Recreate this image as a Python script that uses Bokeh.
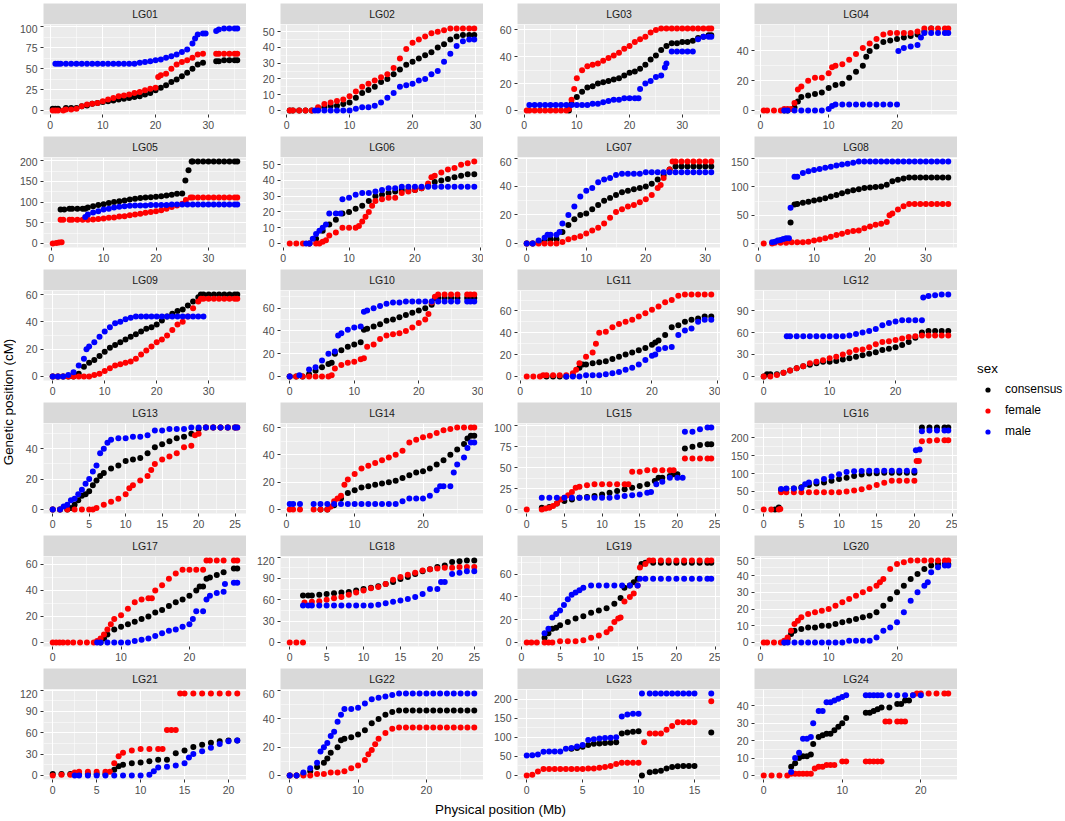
import math
from bokeh.plotting import figure
from bokeh.models import Range1d, FixedTicker, Label, Legend, LegendItem, ColumnDataSource
from bokeh.layouts import row, column
from bokeh.embed import file_html
from bokeh.resources import INLINE

FONT = "Liberation Sans"
SEXES = ["consensus", "female", "male"]
COLORS = {"consensus": "#000000", "female": "#FF0000", "male": "#0000FF"}

# ---------------- data: (physical Mb, genetic cM) ----------------
LG01_xticks = [0, 10, 20, 30]
LG01_yticks = [0, 25, 50, 75, 100]
LG01_consensus = [(0.5,2),(1,2),(1.5,2),(3,3),(4,3),(5,3),(6,5),(7,6),(8,8),(9,9),(10,10),(11,11),(12,12),(13,13),(14,14),(15,15),(16,16),(17,17),(18,19),(19,21),(20,24),(21,27),(22,30),(23,34),(24,37),(25,41),(26,45),(27,50),(28,55),(29,57),(31.5,59),(32,59),(33,60),(34,60),(35,60),(35.5,60)]
LG01_female = [(0.5,0),(1,0),(1.5,0),(2.5,0),(3,1),(4,1),(5,2),(6,5),(7,7),(8,8),(9,9),(10,11),(11,13),(12,15),(13,17),(14,18),(15,19),(16,21),(17,22),(18,24),(19,26),(20,27),(20.5,40),(21,42),(22,44),(23,50),(24,55),(25,58),(26,60),(27,63),(28,67),(29,68),(31.5,68),(32,68),(33,68),(34,68),(35,68),(35.5,68)]
LG01_male = [(1,56),(1.5,56),(2,56),(3,56),(4,56),(5,56),(6,56),(7,56),(8,56),(9,56),(10,56),(11,56),(12,56),(13,56),(14,56),(15,56),(16,56),(17,57),(18,58),(19,59),(20,60),(21,61),(22,63),(23,65),(24,67),(25,70),(26,73),(27,80),(27.5,86),(28,91),(29,92),(29.5,92),(31.5,95),(32,97),(33,98),(34,98),(35,98),(35.5,98)]

LG02_xticks = [0, 10, 20, 30]
LG02_yticks = [0, 10, 20, 30, 40, 50]
LG02_consensus = [(0.5,0),(1,0),(2,0),(3,0),(4,0),(5,1),(6,2),(7,3),(8,3),(9,4),(10,5),(11,8),(12,11),(13,13),(14,15),(15,18),(16,20),(17,23),(18,26),(19,29),(20,31),(21,33),(22,35),(23,37),(24,40),(25,42),(26,45),(27,47),(28,48),(29,48),(29.8,48)]
LG02_female = [(0.5,0),(1,0),(2,0),(3,0),(4,0),(5,2),(6,4),(7,5),(8,6),(9,7),(10,9),(11,12),(12,15),(13,17),(14,19),(15,21),(16,23),(17,27),(18,33),(19,39),(20,43),(21,45),(22,47),(23,49),(24,50),(25,51),(26,52),(27,52),(28,52),(29,52),(29.8,52)]
LG02_male = [(4.5,0),(5,0),(6,0),(7,0),(8,0),(9,0),(10,0),(11,1),(12,2),(13,2),(14,3),(15,5),(16,8),(17,11),(18,15),(19,16),(20,17),(21,19),(22,20),(23,23),(24,25),(25,31),(26,36),(27,41),(28,44),(29,45),(29.8,45)]

LG03_xticks = [0, 10, 20, 30]
LG03_yticks = [0, 20, 40, 60]
LG03_consensus = [(8.5,0),(9,5),(10,10),(11,14),(12,17),(13,18),(14,20),(15,21),(16,22),(17,23),(18,24),(19,26),(20,28),(21,29),(22,31),(23,34),(24,38),(25,41),(26,45),(27,48),(28,50),(29,50),(30,51),(31,51),(32,52),(33,54),(34,55),(35,56),(35.5,56)]
LG03_female = [(0.5,0),(1,0),(2,0),(3,0),(4,0),(5,0),(6,0),(7,0),(8,0),(8.5,1),(9,8),(9.5,16),(10,24),(11,30),(12,33),(13,34),(14,35),(15,37),(16,39),(17,41),(18,43),(19,46),(20,48),(21,51),(22,53),(23,55),(24,58),(25,60),(26,61),(27,61),(28,61),(29,61),(30,61),(31,61),(32,61),(33,61),(34,61),(35,61),(35.5,61)]
LG03_male = [(1,4),(2,4),(3,4),(4,4),(5,4),(6,4),(7,4),(8,4),(9,4),(10,4),(11,4),(12,4),(13,5),(14,5),(15,6),(16,7),(17,8),(18,8),(19,9),(20,9),(21,9),(21.7,9),(22,16),(23,20),(24,22),(25,25),(26,26),(26.7,32),(27,35),(28,44),(29,44),(30,44),(31,44),(32,44),(33,53),(34,55),(35,55),(35.5,55)]

LG04_xticks = [0, 10, 20]
LG04_yticks = [0, 20, 40]
LG04_consensus = [(3.5,0),(4,0),(5,2),(5.5,6),(6,9),(7,10),(8,11),(9,12),(10,15),(11,17),(12,18),(13,22),(14,26),(15,30),(15.5,36),(16,40),(17,43),(18,46),(19,47),(20,48),(21,49),(22,50),(23,51),(24,53),(25,55)]
LG04_female = [(0.5,0),(1,0),(2,0),(3,0),(3.5,1),(4,1),(4.5,1),(5,5),(5.5,14),(6,16),(7,20),(8,22),(9,22),(10,25),(10.5,29),(11,30),(12,31),(13,34),(14,38),(15,42),(16,45),(17,48),(18,51),(19,52),(20,52),(21,52),(22,52),(23,53),(24,55),(25,55),(26,55),(27,55),(27.5,55)]
LG04_male = [(3.5,0),(4,0),(5,0),(6,0),(7,0),(8,0),(9,0),(10,1),(10.5,3),(11,4),(12,4),(13,4),(14,4),(15,4),(16,4),(17,4),(18,4),(19,4),(20,4),(20.2,40),(21,42),(22,43),(23,44),(23.5,49),(24,52),(25,52),(26,52),(27,52),(27.5,52)]

LG05_xticks = [0, 10, 20, 30]
LG05_yticks = [0, 50, 100, 150, 200]
LG05_consensus = [(1.8,82),(2.5,82),(3.5,84),(4,84),(5,84),(6,84),(6.5,84),(7,87),(8,90),(9,93),(10,95),(11,98),(12,100),(13,102),(14,104),(15,106),(16,108),(17,110),(18,111),(19,112),(20,113),(21,114),(22,116),(23,118),(24,120),(25,121),(25.6,152),(26.2,177),(26.8,198),(27,198),(28,198),(29,198),(30,198),(31,198),(32,198),(33,198),(34,198),(35,198),(35.5,198)]
LG05_female = [(0.3,0),(1,1),(1.5,2),(2,3),(1.8,57),(2.3,57),(3.5,57),(4,57),(5,57),(6,57),(7,57),(8,58),(9,59),(10,60),(11,62),(12,63),(13,65),(14,66),(15,68),(16,70),(17,72),(18,74),(19,76),(20,78),(21,80),(22,84),(23,88),(24,92),(25,96),(25.7,105),(26.6,111),(27,111),(28,111),(29,111),(30,111),(31,111),(32,111),(33,111),(34,111),(35,111),(35.5,111)]
LG05_male = [(6.5,64),(7,70),(8,75),(9,78),(10,82),(11,84),(12,87),(13,89),(14,90),(15,91),(16,92),(17,92),(18,92),(19,93),(20,93),(21,93),(22,93),(23,94),(24,94),(25,94),(26,94),(27,94),(28,94),(29,94),(30,94),(31,94),(32,94),(33,94),(34,94),(35,94),(35.5,94)]

LG06_xticks = [0, 10, 20, 30]
LG06_yticks = [0, 10, 20, 30, 40, 50]
LG06_consensus = [(4,0),(5,3),(6,8),(7,12),(8,15),(9,19),(10,20),(11,22),(12,24),(13,27),(14,30),(15,31),(16,32),(17,33),(18,34),(19,34),(20,34),(21,35),(22,37),(23,39),(24,40),(25,41),(26,42),(27,43),(28,44),(29,44)]
LG06_female = [(1,0),(2,0),(3,0),(4,0),(5,0),(5.5,0),(6,1),(6.5,2),(7,5),(8,7),(9,10),(10,10),(11,10),(11.5,11),(12,14),(12.5,17),(13,20),(13.5,24),(14,27),(15,28),(16,29),(17,29),(18,32),(19,33),(20,34),(21,35),(22,38),(22.5,42),(23,43),(24,45),(25,47),(26,48),(27,50),(28,51),(29,52)]
LG06_male = [(3.5,0),(4,0),(4.5,3),(5,6),(5.5,8),(6,10),(6.5,12),(7,19),(8,19),(8.7,19),(9,28),(10,29),(11,31),(12,32),(13,32),(14,33),(15,34),(16,35),(17,35),(18,36),(19,36),(20,36),(21,36),(22,36),(23,36),(24,36),(25,36),(26,36),(27,36),(28,36),(29,36)]

LG07_xticks = [0, 10, 20, 30]
LG07_yticks = [0, 20, 40, 60]
LG07_consensus = [(0,0),(1,0),(2,1),(3,2),(4,3),(5,3),(6,8),(7,13),(8,17),(9,20),(10,21),(11,24),(12,27),(13,30),(14,32),(15,34),(16,36),(17,37),(18,38),(19,39),(20,40),(21,42),(22,45),(23,48),(24,52),(25,54),(26,54),(27,54),(28,54),(29,54),(30,54),(31,54)]
LG07_female = [(0,0),(1,0),(2,0),(3,0),(4,0),(5,0),(6,1),(7,3),(8,4),(9,5),(10,7),(11,9),(12,11),(13,14),(14,18),(15,22),(16,24),(17,26),(18,27),(19,29),(20,31),(21,34),(22,39),(22.5,41),(23,46),(24,52),(24.5,57.5),(25,57.5),(26,57.5),(27,57.5),(28,57.5),(29,57.5),(30,57.5),(31,57.5)]
LG07_male = [(0,0),(1,0),(2,2),(3,4),(3.5,6),(4,6),(5,6),(5.5,8),(6,14),(7,20),(8,26),(9,33),(10,37),(11,39),(12,43),(13,45),(14,46),(15,48),(16,49),(17,49),(18,49),(19,49),(20,50),(21,50),(22,50),(23,50),(24,50),(25,50),(26,50),(27,50),(28,50),(29,50),(30,50),(31,50)]

LG08_xticks = [0, 10, 20, 30]
LG08_yticks = [0, 50, 100, 150]
LG08_consensus = [(5.8,37),(6.5,69),(7,70),(8,72),(9,74),(10,76),(11,78),(12,80),(13,83),(14,86),(15,89),(16,92),(17,94),(18,96),(19,98),(20,99),(21,100),(22,101),(23,104),(24,110),(25,113),(26,115),(27,117),(28,117),(29,117),(30,117),(31,117),(32,117),(33,117),(34,117)]
LG08_female = [(1,0),(2.5,0),(3,1),(4,1),(5,1),(6,2),(7,2),(8,2),(9,3),(10,5),(11,7),(12,9),(13,12),(14,15),(15,17),(16,20),(17,22),(18,23),(19,27),(20,30),(21,33),(22,35),(23,38),(23.5,50),(24,53),(25,60),(26,66),(27,70),(28,70),(29,70),(30,70),(31,70),(32,70),(33,70),(34,70)]
LG08_male = [(2.5,2),(3,3),(3.5,5),(4,6),(4.5,8),(5,9),(5.5,9),(5.8,63),(6.5,118),(7,118),(8,125),(9,128),(10,130),(11,132),(12,134),(13,136),(14,138),(15,140),(16,141),(17,143),(18,145),(19,145),(20,145),(21,145),(22,145),(23,145),(24,145),(25,145),(26,145),(27,145),(28,145),(29,145),(30,145),(31,145),(32,145),(33,145),(34,145)]

LG09_xticks = [0, 10, 20, 30]
LG09_yticks = [0, 20, 40, 60]
LG09_consensus = [(0,0),(1,0),(2,0),(3,0),(4,0),(5,2),(6,7),(7,10),(8,12),(9,15),(10,18),(11,21),(12,23),(13,25),(14,27),(15,29),(16,31),(17,33),(18,35),(19,36),(20,38),(21,41),(22,44),(23,46),(24,48),(25,49),(26,52),(27,55),(28,58),(28.5,60),(29,60),(30,60),(31,60),(32,60),(33,60),(34,60),(35,60),(35.5,60)]
LG09_female = [(0,0),(1,0),(2,0),(3,0),(4,0),(5,0),(6,0),(7,0),(8,1),(9,2),(10,4),(11,6),(12,8),(13,9),(14,10),(15,11),(16,13),(17,16),(18,19),(19,22),(20,25),(21,27),(22,30),(23,34),(24,38),(25,40),(26,44),(27,50),(28,55),(28.5,57),(29,57),(30,57),(31,57),(32,57),(33,57),(34,57),(35,57),(35.5,57)]
LG09_male = [(0,0),(1,0),(2,0),(3,1),(4,3),(5,8),(6,13),(6.5,20),(7,22),(8,25),(9,29),(10,33),(11,36),(12,39),(13,40),(14,42),(15,43),(16,44),(17,44),(18,44),(19,44),(20,44),(21,44),(22,44),(23,44),(24,44),(25,44),(26,44),(27,44),(28,44),(29,44)]

LG10_xticks = [0, 10, 20, 30]
LG10_yticks = [0, 20, 40, 60]
LG10_consensus = [(0,0),(1,0),(2,0),(3,2),(4,5),(5,8),(6,11),(6.5,12),(7,20),(8,23),(9,26),(10,28),(11,30),(11.5,41),(12,42),(13,44),(14,46),(15,49),(16,50),(17,52),(18,54),(19,56),(20,58),(21,60),(22,63),(22.5,69),(23,69),(24,69),(25,69),(26,69),(27.5,69),(28,69),(28.6,69)]
LG10_female = [(0,0),(1,0),(2,0),(3,0),(4,0),(5,0),(6,0),(6.5,1),(7,7),(8,10),(9,12),(10,13),(11,15),(11.5,16),(12,26),(13,28),(14,33),(15,36),(16,37),(17,38),(18,40),(19,43),(20,47),(21,50),(21.5,55),(22,65),(22.5,70),(23,72),(24,72),(25,72),(26,72),(27.5,72),(28,72),(28.6,72)]
LG10_male = [(0,0),(1.5,1),(3,6),(4,8),(5,14),(6,20),(7,22),(7.5,36),(8,38),(9,41),(10,43),(11,44),(11.5,57),(12,58),(13,60),(14,62),(15,64),(16,65),(17,65),(18,66),(19,66),(20,66),(21,66),(22,66),(23,66),(24,66),(25,66),(26,66),(27.5,66),(28,66),(28.6,66)]

LG11_xticks = [0, 10, 20, 30]
LG11_yticks = [0, 20, 40, 60]
LG11_consensus = [(4,0),(5,0),(6,0),(7,0),(8,1),(9,8),(9.5,11),(10,11),(11,12),(12,13),(13,14),(14,16),(15,18),(16,20),(17,22),(18,24),(19,26),(20,29),(20.5,31),(21,33),(22,38),(23,45),(24,47),(25,50),(26,52),(27,53),(28,55),(29,55)]
LG11_female = [(1,0),(2,0),(3,0),(3.5,1),(4,1),(5,1),(6,1),(7,1),(8,3),(8.5,6),(9,12),(10,18),(11,22),(11.5,30),(12,40),(13,41),(14,45),(15,48),(16,50),(17,52),(18,55),(19,58),(20,61),(21,64),(22,68),(23,70),(24,74),(25,75),(26,75),(27,75),(28,75),(29,75)]
LG11_male = [(7,0),(8,0),(9,0),(10,1),(11,1),(12,1),(13,2),(14,3),(15,4),(16,6),(17,8),(18,11),(19,15),(20,19),(20.5,20),(21,25),(22,26),(23,27),(24,38),(25,42),(26,44),(27,50),(28,52),(29,52)]

LG12_xticks = [0, 10, 20]
LG12_yticks = [0, 30, 60, 90]
LG12_consensus = [(0,0),(0.5,3),(1,3),(2,3),(3,5),(4,8),(5,11),(6,14),(7,16),(8,18),(9,20),(10,20),(11,21),(12,23),(13,25),(14,27),(15,29),(16,31),(17,33),(18,36),(19,38),(20,40),(21,43),(22,47),(23,53),(24,60),(25,62),(26,62),(27,62),(28,62)]
LG12_female = [(0,0),(1,0),(2,2),(3,5),(4,8),(5,11),(6,14),(7,18),(8,20),(9,22),(10,25),(11,27),(12,30),(13,33),(14,36),(15,37),(16,40),(17,44),(18,47),(19,48),(20,50),(21,52),(22,54),(23,55),(24,56),(25,56),(26,56),(27,56),(28,56)]
LG12_male = [(3.5,55),(4,55),(5,55),(6,55),(7,55),(8,55),(9,55),(10,55),(11,55),(12,55),(13,56),(14,58),(15,60),(16,62),(17,65),(18,70),(19,73),(20,75),(21,77),(22,77),(23,77),(24,77),(24.2,108),(25,110),(26,111),(27,112),(28,112)]

LG13_xticks = [0, 5, 10, 15, 20, 25]
LG13_yticks = [0, 20, 40]
LG13_consensus = [(0,0),(1,0),(2,0),(2.5,1),(3,3),(3.5,6),(4,9),(4.5,10),(5,12),(5.5,16),(6,19),(6.5,22),(7,24),(8,27),(9,29),(10,32),(11,33),(12,34),(13,37),(14,41),(15,43),(16,45),(17,47),(18,48),(19,50),(20,53),(21,54),(22,54),(23,54),(24,54),(25,54)]
LG13_female = [(0,0),(1,0),(2,0),(3,0),(4,0),(5,0),(5.5,0),(6,1),(7,3),(8,5),(9,7),(10,10),(10.5,14),(11,16),(12,19),(13,22),(13.5,26),(14,30),(15,33),(16,35),(17,37),(18,41),(19,42),(19.5,49),(20,50),(21,54),(22,54),(23,54),(24,54),(25,54),(25.3,54)]
LG13_male = [(0,0),(1,0),(1.5,2),(2,3),(2.5,6),(3,7),(3.5,10),(4,13),(4.5,17),(5,20),(5.5,25),(6,29),(6.5,37),(7,40),(7.5,44),(8,46),(9,47),(10,47),(11,48),(12,48),(13,49),(14,52),(15,52),(16,53),(17,53),(18,53),(19,54),(20,54),(21,54),(22,54),(23,54),(24,54),(25,54),(25.3,54)]

LG14_xticks = [0, 10, 20]
LG14_yticks = [0, 20, 40, 60]
LG14_consensus = [(5,0),(6,0),(7,3),(8,8),(9,12),(10,14),(11,16),(12,17),(13,18),(14,19),(15,20),(16,21),(17,23),(18,25),(19,27),(20,28),(21,30),(22,33),(23,36),(24,40),(25,44),(26,48),(26.5,52),(27,54),(27.5,54)]
LG14_female = [(0.5,0),(1,0),(2,0),(4,0),(5,0),(6,0),(6.5,2),(7,6),(7.5,8),(8,10),(8.5,18),(9,22),(10,26),(11,30),(12,32),(13,34),(14,36),(15,38),(16,40),(17,43),(18,49),(19,51),(20,53),(21,54),(22,56),(23,58),(24,59),(25,60),(26,60),(27,60),(27.5,60)]
LG14_male = [(0.5,4),(1,4),(2,4),(4,4),(5,4),(6,4),(7,4),(8,4),(9,4),(10,4),(11,4),(12,4),(13,4),(14,4),(15,4),(16,4),(17,6),(18,8),(19,8),(20,8),(21,10),(22,14),(22.5,17),(23,17),(24,17),(24.5,27),(25,33),(26,38),(26.5,45),(27,49),(27.5,49)]

LG15_xticks = [0, 5, 10, 15, 20, 25]
LG15_yticks = [0, 25, 50, 75, 100]
LG15_consensus = [(2,2),(3,3),(4,7),(5,10),(6,12),(7,14),(8,15),(9,16),(10,18),(11,20),(12,22),(13,24),(14,26),(15,28),(16,30),(17,34),(17.5,38),(18,38),(19,40),(19.5,42),(20,42),(21,73),(22,75),(23,77),(24,78),(24.5,78)]
LG15_female = [(0,0),(2,0),(2.5,1),(3,2),(3.5,4),(4,7),(4.5,12),(5,14),(5.5,17),(6,21),(6.5,26),(7,27),(8,29),(9,30),(10,30),(11,30),(12,30),(13,30),(13.5,30),(14,45),(15,45),(16,47),(17,47),(18,47),(19,47),(19.5,47),(21,61),(22,61),(23,61),(24,61),(24.5,61)]
LG15_male = [(2,14),(3,14),(4,14),(5,14),(6,14),(7,14),(8,14),(9,14),(10,14),(11,14),(12,15),(13,16),(14,17),(15,18),(16,20),(16.5,21),(17.2,30),(18,33),(19,38),(20,38),(20.7,38),(21,93),(22,93),(23,96),(24,98),(24.5,98)]

LG16_xticks = [0, 5, 10, 15, 20, 25]
LG16_yticks = [0, 50, 100, 150, 200]
LG16_consensus = [(1.5,0),(2,5),(2.3,55),(3,57),(4,58),(5,62),(6,68),(7,72),(8,75),(9,80),(10,85),(11,88),(12,93),(13,97),(14,100),(15,101),(16,102),(17,102),(18,102),(19,102),(20,102),(21,228),(22,228),(23,228),(24,228),(24.5,228)]
LG16_female = [(0,0),(1,0),(2,0),(2.2,1),(2.3,48),(3,48),(4,48),(5,48),(6,48),(7,48),(8,48),(9,48),(10,48),(11,50),(12,53),(13,56),(14,62),(15,68),(16,74),(17,80),(18,80),(19,80),(20,80),(20.3,135),(20.6,135),(21,190),(22,191),(23,193),(24,193),(24.5,193)]
LG16_male = [(2.3,57),(3,58),(4,58),(5,60),(5.5,70),(6,75),(7,78),(8,85),(9,92),(10,98),(11,104),(12,106),(13,107),(14,108),(15,108),(16,108),(17,108),(18,108),(19,108),(20,108),(20.2,165),(20.7,167),(21,218),(22,220),(23,220),(24,220),(24.5,220)]

LG17_xticks = [0, 10, 20]
LG17_yticks = [0, 20, 40, 60]
LG17_consensus = [(7,0),(7.5,3),(8,6),(9,10),(10,12),(11,14),(12,16),(13,18),(14,20),(15,23),(16,25),(17,28),(18,31),(19,33),(20,36),(21,40),(21.5,43),(22,43),(22.5,49),(23,50),(24,52),(25,54),(26.5,57),(27,57)]
LG17_female = [(0,0),(0.5,0),(1,0),(1.5,0),(2.2,0),(3,0),(4,0),(5,0),(6,0),(6.5,1),(7,3),(7.5,6),(8,10),(8.5,14),(9,18),(10,21),(11,26),(12,31),(13,33),(14,34),(14.5,34),(15,40),(16,44),(17,49),(18,53),(19,56),(20,56),(21,56),(22,56),(22.5,63),(23,63),(24,63),(25,63),(26.5,63),(27,63)]
LG17_male = [(6.5,0),(7,0),(8,0),(9,0),(10,0),(11,0),(12,1),(13,2),(14,3),(15,5),(16,7),(17,9),(18,10),(19,12),(20,14),(20.5,18),(21,24),(22,24),(22.5,33),(23,36),(24,38),(25,39),(25.2,45),(26.5,46),(27,46)]

LG18_xticks = [0, 5, 10, 15, 20, 25]
LG18_yticks = [0, 30, 60, 90, 120]
LG18_consensus = [(1.8,66),(2.5,66),(3,66),(4,67),(5,68),(6,69),(7,70),(8,71),(9,73),(10,75),(11,77),(12,79),(13,82),(14,85),(15,89),(16,92),(17,96),(18,100),(19,103),(20,106),(21,108),(22,113),(23,114),(24,115),(25,115)]
LG18_female = [(0,0),(0.9,0),(1.8,0),(2,56),(3,57),(4,58),(5,60),(6,62),(7,64),(8,67),(9,70),(10,73),(11,76),(12,78),(13,82),(14,88),(15,92),(16,95),(17,98),(18,101),(19,103),(20,104),(21,105),(22,105),(23,106),(24,106),(25,106)]
LG18_male = [(1.8,52),(2.5,52),(3,52),(4,52),(5,52),(6,52),(7,52),(8,52),(9,52),(10,52),(11,52),(12,53),(13,55),(14,57),(15,59),(16,61),(17,64),(18,68),(19,75),(20,75),(20.5,85),(21,85),(22,96),(23,98),(24,100),(25,100)]

LG19_xticks = [0, 5, 10, 15, 20, 25]
LG19_yticks = [0, 20, 40, 60]
LG19_consensus = [(3,4),(3.5,8),(4,12),(4.5,13),(5,15),(6,18),(7,21),(8,23),(9,26),(10,28),(11,30),(12,34),(12.8,39),(13.3,48),(14,50),(14.5,53),(15,56),(15.5,69),(16,70),(17,70),(18,70),(19,70),(20,70),(21,70),(22,70),(23,70),(24,70),(24.5,70)]
LG19_female = [(0.7,0),(1.3,0),(2,0),(3,0),(3.5,0),(4,0),(5,1),(6,1),(7,1),(8,2),(9,4),(10,6),(11,9),(11.5,12),(12,18),(12.5,21),(12.8,22),(13.3,36),(14,40),(14.5,43),(15,50),(15.3,66),(16,69),(16.5,72),(17,72),(18,72),(19,72),(20,72),(21,72),(22,72),(23,72),(24,72),(24.5,72)]
LG19_male = [(3,8),(3.5,12),(4,22),(4.5,25),(5,28),(5.5,33),(6,38),(6.5,42),(7,44),(7.5,46),(8,48),(9,50),(10,50),(11,50),(12,50),(13,50),(14,50),(15,50),(15.3,56),(16,56),(17,56),(18,56),(19,56),(20,56),(21,56),(22,56),(23,56),(24,56),(24.5,56)]

LG20_xticks = [0, 10, 20]
LG20_yticks = [0, 10, 20, 30, 40, 50]
LG20_consensus = [(3.5,0),(4,2),(4.5,5),(5,7),(6,8),(7,9),(8,9),(9,10),(10,10),(11,11),(12,12),(13,13),(14,14),(15,15),(16,16),(17,18),(18,22),(19,26),(20,30),(21,34),(22,38),(23,41),(24,44),(25,46),(26,47),(27,47),(27.5,47)]
LG20_female = [(0.5,0),(1,0),(2,0),(3,0),(3.5,1),(4,3),(4.5,7),(5,11),(5.5,13),(6,15),(7,17),(8,18),(9,19),(10,20),(11,22),(12,24),(13,26),(14,28),(15,30),(16,32),(17,34),(17.5,36),(18,38),(19,44),(20,47),(21,48),(22,49),(23,49),(24,49),(25,49),(26,49),(27,49),(27.5,49)]
LG20_male = [(3.5,0),(4,0),(5,0),(6,0),(7,0),(8,0),(9,0),(10,0),(11,0),(12,0),(13,1),(14,1),(15,1),(16,1),(17,3),(18,7),(19,9),(20,12),(21,18),(22,25),(23,30),(24,34),(24.5,36),(25,42),(26,45),(27,46),(27.5,46)]

LG21_xticks = [0, 5, 10, 15, 20]
LG21_yticks = [0, 30, 60, 90, 120]
LG21_consensus = [(0,2),(1,2),(2,2),(3,2),(4,2),(5,2),(6,2),(7,8),(7.5,13),(8,15),(9,17),(10,18),(11,20),(12,22),(13,22),(14,31),(15,35),(16,40),(17,43),(18,46),(19,48),(20,49),(21,49)]
LG21_female = [(0,0),(1,1),(2,1),(2.5,4),(3,5),(4,5),(5,5),(6,5),(6.5,5),(7,17),(7.5,27),(8,32),(9,35),(10,37),(11,37),(12,37),(12.5,37),(13,64),(13.5,64),(14,64),(14.5,115),(15,115),(16,115),(17,115),(18,115),(19,115),(20,115),(21,115)]
LG21_male = [(2.5,0),(3,0),(4,0),(5,0),(6,0),(7,0),(8,0),(9,0),(10,0),(11,1),(11.5,6),(12,11),(13,12),(14,14),(15,17),(15.5,25),(16,30),(17,34),(18,39),(19,44),(20,48),(21,49)]

LG22_xticks = [0, 10, 20]
LG22_yticks = [0, 20, 40, 60]
LG22_consensus = [(0,0),(1,0),(2,1),(3,3),(4,6),(5,9),(5.5,12),(6,16),(7,20),(7.5,25),(8,26),(9,27),(10,29),(11,32),(12,37),(13,40),(14,43),(15,45),(16,46),(17,46),(18,46),(19,46),(20,46),(21,46),(22,46),(23,46),(24,46),(25,46),(26,46),(27,46)]
LG22_female = [(0,0),(1,0),(2,0),(3,0),(4,1),(5,1),(6,2),(7,2),(8,3),(9,5),(10,7),(11,11),(11.5,15),(12,18),(12.5,22),(13,26),(14,30),(15,33),(16,34),(17,34),(18,34),(19,34),(20,34),(21,34),(22,34),(23,34),(24,34),(25,34),(26,34),(27,34)]
LG22_male = [(0,0),(1,0),(2,2),(3,5),(4,9),(4.5,17),(5,20),(5.5,23),(6,28),(6.5,31),(7,38),(7.5,43),(8,47),(9,47),(10,48),(11,51),(12,54),(13,55),(14,56),(15,57),(16,58),(17,58),(18,58),(19,58),(20,58),(21,58),(22,58),(23,58),(24,58),(25,58),(26,58),(27,58)]

LG23_xticks = [0, 5, 10, 15]
LG23_yticks = [0, 50, 100, 150, 200]
LG23_consensus = [(4,70),(4.5,72),(5,75),(5.5,80),(6,83),(6.5,84),(7,85),(7.5,86),(8,87),(8.5,110),(9,113),(9.5,115),(10,116),(10.3,0),(11,8),(11.5,10),(12,12),(12.5,18),(13,22),(13.5,24),(14,25),(14.5,25),(15,25),(16.5,113)]
LG23_female = [(0,0),(0.5,2),(1,10),(1.5,17),(2,17),(2.5,17),(3,17),(3.5,17),(4,17),(4.5,17),(5,17),(5.5,18),(6,18),(6.5,20),(7,22),(7.5,25),(8,30),(8.5,33),(9,33),(9.5,33),(10,33),(10.5,87),(11,110),(11.5,110),(12,110),(12.5,120),(13,130),(13.5,140),(14,140),(14.5,140),(15,140),(16.5,195)]
LG23_male = [(0,52),(0.5,53),(1,55),(1.5,62),(2,63),(2.5,63),(3,63),(3.5,70),(4,72),(4.5,76),(5,80),(5.5,93),(6,95),(6.5,97),(7,98),(7.5,99),(8,100),(8.5,155),(9,160),(9.5,162),(10,162),(10.3,215),(11,215),(11.5,215),(12,215),(12.5,215),(13,215),(13.5,215),(14,215),(14.5,215),(15,215),(16.5,215)]

LG24_xticks = [0, 10, 20]
LG24_yticks = [0, 10, 20, 30, 40]
LG24_consensus = [(3.5,5),(4,7),(4.5,10),(5,11),(5.5,11),(6,12),(6.3,18),(7,22),(7.5,23),(8,24),(8.5,24),(9,26),(9.5,28),(10,30),(10.5,33),(13,36),(13.5,36),(14,37),(14.5,38),(15,39),(16,39),(17,41),(17.5,41),(18,43),(18.5,43)]
LG24_female = [(0,0),(1,0),(2,0),(3,0),(3.5,1),(4,1),(4.5,1),(5,1),(5.5,1),(6,1),(6.5,4),(7,5),(7.5,5),(8,6),(8.5,6),(9,6),(10,8),(10.5,8),(13,8),(13.5,8),(14,8),(14.5,8),(15,8),(15.5,31),(16,31),(17,31),(17.5,31),(18,31),(19,46),(19.5,47),(20,47),(21,47),(22,47),(23,47),(23.5,47)]
LG24_male = [(3.5,2),(4,10),(4.5,13),(5,21),(5.5,21),(6,22),(6.3,30),(7,37),(7.5,37),(8,42),(8.5,42),(9,43),(9.5,44),(10,45),(10.5,46),(13,46),(13.5,46),(14,46),(14.5,46),(15,46),(16,46),(17,46),(18,46),(19,46),(20,46)]

PANELS = [
    ("LG01", LG01_xticks, LG01_yticks, LG01_consensus, LG01_female, LG01_male),
    ("LG02", LG02_xticks, LG02_yticks, LG02_consensus, LG02_female, LG02_male),
    ("LG03", LG03_xticks, LG03_yticks, LG03_consensus, LG03_female, LG03_male),
    ("LG04", LG04_xticks, LG04_yticks, LG04_consensus, LG04_female, LG04_male),
    ("LG05", LG05_xticks, LG05_yticks, LG05_consensus, LG05_female, LG05_male),
    ("LG06", LG06_xticks, LG06_yticks, LG06_consensus, LG06_female, LG06_male),
    ("LG07", LG07_xticks, LG07_yticks, LG07_consensus, LG07_female, LG07_male),
    ("LG08", LG08_xticks, LG08_yticks, LG08_consensus, LG08_female, LG08_male),
    ("LG09", LG09_xticks, LG09_yticks, LG09_consensus, LG09_female, LG09_male),
    ("LG10", LG10_xticks, LG10_yticks, LG10_consensus, LG10_female, LG10_male),
    ("LG11", LG11_xticks, LG11_yticks, LG11_consensus, LG11_female, LG11_male),
    ("LG12", LG12_xticks, LG12_yticks, LG12_consensus, LG12_female, LG12_male),
    ("LG13", LG13_xticks, LG13_yticks, LG13_consensus, LG13_female, LG13_male),
    ("LG14", LG14_xticks, LG14_yticks, LG14_consensus, LG14_female, LG14_male),
    ("LG15", LG15_xticks, LG15_yticks, LG15_consensus, LG15_female, LG15_male),
    ("LG16", LG16_xticks, LG16_yticks, LG16_consensus, LG16_female, LG16_male),
    ("LG17", LG17_xticks, LG17_yticks, LG17_consensus, LG17_female, LG17_male),
    ("LG18", LG18_xticks, LG18_yticks, LG18_consensus, LG18_female, LG18_male),
    ("LG19", LG19_xticks, LG19_yticks, LG19_consensus, LG19_female, LG19_male),
    ("LG20", LG20_xticks, LG20_yticks, LG20_consensus, LG20_female, LG20_male),
    ("LG21", LG21_xticks, LG21_yticks, LG21_consensus, LG21_female, LG21_male),
    ("LG22", LG22_xticks, LG22_yticks, LG22_consensus, LG22_female, LG22_male),
    ("LG23", LG23_xticks, LG23_yticks, LG23_consensus, LG23_female, LG23_male),
    ("LG24", LG24_xticks, LG24_yticks, LG24_consensus, LG24_female, LG24_male),
]

# ---------------- layout constants ----------------
FRAME_W, FRAME_H = 203, 90
STRIP_H, AXIS_H = 21, 22
TOP_PAD = 3
LEFT_FIRST, LEFT_OTHER = 27, 34
NCOL = 4
YTITLE_W = 16
XTITLE_H = 16
LEGEND_W = 108


def minor_ticks(ticks):
    step = ticks[1] - ticks[0]
    return [ticks[0] - step / 2] + [t + step / 2 for t in ticks]


def expand(vals):
    lo, hi = min(vals), max(vals)
    d = (hi - lo) * 0.05
    return Range1d(lo - d, hi + d)


def style_axis(ax, grid, ticks):
    tk = FixedTicker(ticks=ticks, minor_ticks=minor_ticks(ticks))
    ax.ticker = tk
    grid.ticker = tk
    ax.axis_line_color = None
    ax.major_tick_line_color = "#333333"
    ax.major_tick_line_width = 1
    ax.major_tick_in = 0
    ax.major_tick_out = 3
    ax.minor_tick_line_color = None
    ax.major_label_text_font = FONT
    ax.major_label_text_font_size = "10.5px"
    ax.major_label_text_color = "#4D4D4D"
    ax.major_label_standoff = 2
    grid.grid_line_color = "white"
    grid.grid_line_width = 1.0
    grid.minor_grid_line_color = "white"
    grid.minor_grid_line_width = 0.5


def make_strip(name, left, top):
    s = figure(frame_width=FRAME_W, frame_height=STRIP_H, x_range=Range1d(0, 1), y_range=Range1d(0, 1),
               x_axis_location=None, y_axis_location=None, toolbar_location=None,
               output_backend="svg", min_border_left=left, min_border_right=0,
               min_border_top=top, min_border_bottom=0, background_fill_color="#D9D9D9",
               border_fill_color="white", outline_line_color=None)
    s.grid.visible = False
    s.add_layout(Label(x=0.5, y=0.5, text=name, text_align="center", text_baseline="middle",
                       text_font=FONT, text_font_size="10.5px", text_color="#1A1A1A"))
    return s


def make_panel(xt, yt, series, left):
    xs = [pt[0] for s in series for pt in s]
    ys = [pt[1] for s in series for pt in s]
    p = figure(frame_width=FRAME_W, frame_height=FRAME_H, x_range=expand(xs), y_range=expand(ys),
               toolbar_location=None, output_backend="svg",
               min_border_left=left, min_border_right=0, min_border_top=0, min_border_bottom=AXIS_H,
               background_fill_color="#EBEBEB", border_fill_color="white", outline_line_color=None)
    style_axis(p.xaxis[0], p.xgrid[0], xt)
    style_axis(p.yaxis[0], p.ygrid[0], yt)
    for sex, pts in zip(SEXES, series):
        src = ColumnDataSource(dict(x=[pt[0] for pt in pts], y=[pt[1] for pt in pts]))
        p.scatter(x="x", y="y", source=src, size=6, fill_color=COLORS[sex], line_color=None)
    return p


rows = []
for r0 in range(0, len(PANELS), NCOL):
    top = TOP_PAD if r0 == 0 else 0
    cells = []
    for ci, (name, xt, yt, c, f, m) in enumerate(PANELS[r0:r0 + NCOL]):
        left = LEFT_FIRST if ci == 0 else LEFT_OTHER
        cells.append(column(make_strip(name, left, top), make_panel(xt, yt, (c, f, m), left)))
    rows.append(row(*cells))
grid = column(*rows)

nrows = len(rows)
grid_h = TOP_PAD + nrows * (STRIP_H + FRAME_H + AXIS_H)

# y-axis title
yt_fig = figure(width=YTITLE_W, height=grid_h, x_range=Range1d(0, 1), y_range=Range1d(0, 1),
                x_axis_location=None, y_axis_location=None, toolbar_location=None, output_backend="svg",
                min_border_left=0, min_border_right=0, min_border_top=TOP_PAD + STRIP_H,
                min_border_bottom=AXIS_H, outline_line_color=None)
yt_fig.grid.visible = False
yt_fig.add_layout(Label(x=0.5, y=0.5, text="Genetic position (cM)", angle=math.pi / 2,
                        text_align="center", text_baseline="middle", text_font=FONT,
                        text_font_size="13.4px", text_color="black"))

# x-axis title
panels_w = NCOL * FRAME_W + (NCOL - 1) * LEFT_OTHER
xt_fig = figure(frame_width=panels_w, frame_height=XTITLE_H, x_range=Range1d(0, 1), y_range=Range1d(0, 1),
                x_axis_location=None, y_axis_location=None, toolbar_location=None, output_backend="svg",
                min_border_left=LEFT_FIRST, min_border_right=0, min_border_top=0, min_border_bottom=0,
                outline_line_color=None)
xt_fig.grid.visible = False
xt_fig.add_layout(Label(x=0.5, y=0.5, text="Physical position (Mb)", text_align="center",
                        text_baseline="middle", text_font=FONT, text_font_size="13.4px", text_color="black"))

# legend (its renderers reuse LG01 data, kept outside the legend figure's visible range)
lg_h = grid_h + XTITLE_H
lf = figure(width=LEGEND_W, height=lg_h, x_range=Range1d(-2, -1), y_range=Range1d(-2, -1),
            x_axis_location=None, y_axis_location=None, toolbar_location=None, output_backend="svg",
            min_border=0, outline_line_color=None)
lf.grid.visible = False
items = []
for sex, pts in zip(SEXES, (LG01_consensus, LG01_female, LG01_male)):
    src = ColumnDataSource(dict(x=[pt[0] for pt in pts], y=[pt[1] for pt in pts]))
    r = lf.scatter(x="x", y="y", source=src, size=6, fill_color=COLORS[sex], line_color=None)
    items.append(LegendItem(label=sex, renderers=[r]))
# keep the legend at the same page height as before (figure got 2px taller)
legend = Legend(items=items, location=(20, 357), title="sex", title_text_font=FONT,
                title_text_font_size="13.4px", title_text_font_style="normal", title_text_color="black",
                title_standoff=6, label_text_font=FONT, label_text_font_size="12px",
                label_text_color="black", label_standoff=7, glyph_width=21, glyph_height=13,
                spacing=7, padding=0, margin=0, border_line_color=None, background_fill_alpha=0)
lf.add_layout(legend)

layout = row(yt_fig, column(grid, xt_fig), lf)

with open("out.html", "w") as fh:
    fh.write(file_html(layout, INLINE, title="Genetic vs physical position"))
